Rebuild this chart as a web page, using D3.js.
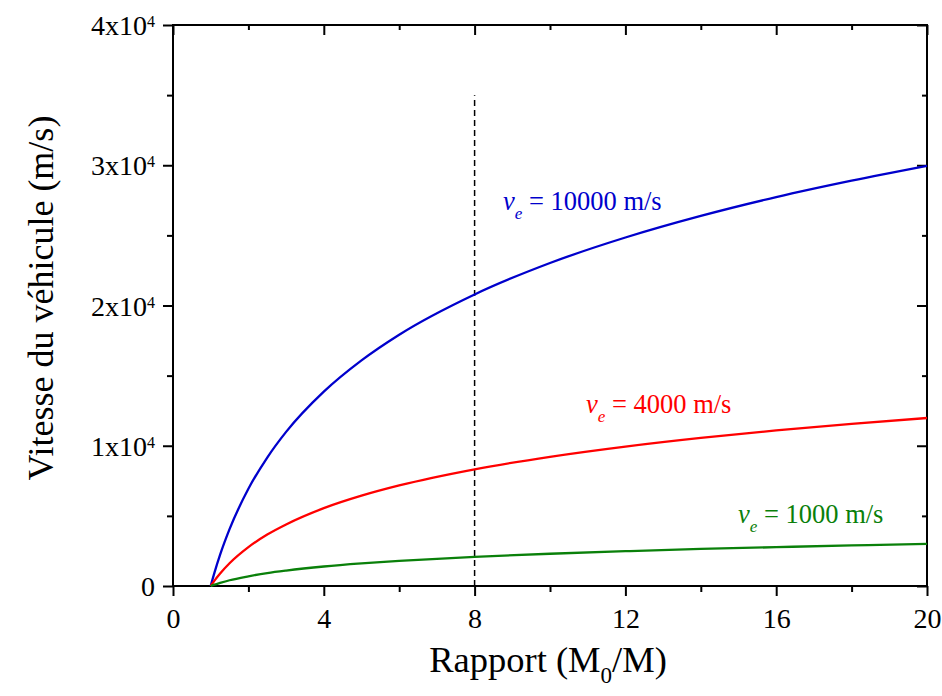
<!DOCTYPE html>
<meta charset="utf-8">
<style>
body { margin: 0; background: #fff; }
svg text { font-family: "Liberation Serif", Tinos, "Times New Roman", Times, serif !important; fill: #000; }
.axis path, .axis line { stroke: #000; stroke-width: 2; }
</style>
<body>
<script src="https://d3js.org/d3.v7.min.js"></script>
<script>

// mass ratio values (M0/M)
var ratio = [1, 1.1, 1.25, 1.5, 2, 2.5, 3, 4, 5, 6, 8, 10, 12, 14, 16, 18, 20];
// vehicle speed (m/s)
var ve10000 = [0, 950, 2230, 4050, 6930, 9160, 10990, 13860, 16090, 17920, 20790, 23030, 24850, 26390, 27730, 28900, 29960];
var ve4000 = [0, 380, 890, 1620, 2770, 3670, 4390, 5550, 6440, 7170, 8320, 9210, 9940, 10560, 11090, 11560, 11980];
var ve1000 = [0, 95, 220, 410, 690, 920, 1100, 1390, 1610, 1790, 2080, 2300, 2480, 2640, 2770, 2890, 3000];

var xTicks = [0, 4, 8, 12, 16, 20];
var yTicks = [0, 10000, 20000, 30000, 40000];
var dashX = 8, dashTop = 35000;

var series = [
  {name: "10000", values: ve10000, color: "#0000cc", lx: 503, ly: 210},
  {name: "4000", values: ve4000, color: "#ff0000", lx: 586, ly: 413},
  {name: "1000", values: ve1000, color: "#0a800a", lx: 738, ly: 523}
];

var margin = {top: 25, right: 15, bottom: 110, left: 173},
    width = 942 - margin.left - margin.right,
    height = 696 - margin.top - margin.bottom;

var x = d3.scaleLinear().domain([0, 20]).range([0, width]);
var y = d3.scaleLinear().domain([0, 40000]).range([height, 0]);

var svg = d3.select("body").append("svg")
    .attr("width", 942)
    .attr("height", 696)
  .append("g")
    .attr("transform", "translate(" + margin.left + "," + margin.top + ")");

// minor ticks, outward on left/bottom, inward on top/right
var xMinor = d3.range(2, 20, 4);
var yMinor = d3.range(5000, 40000, 10000);

svg.append("g").attr("class", "axis")
    .attr("transform", "translate(0," + height + ")")
    .call(d3.axisBottom(x).tickValues(xMinor).tickSize(6).tickFormat(""));
svg.append("g").attr("class", "axis")
    .call(d3.axisLeft(y).tickValues(yMinor).tickSize(6).tickFormat(""));
svg.append("g").attr("class", "axis")
    .call(d3.axisTop(x).tickValues(xMinor).tickSize(-5).tickFormat(""));
svg.append("g").attr("class", "axis")
    .attr("transform", "translate(" + width + ",0)")
    .call(d3.axisRight(y).tickValues(yMinor).tickSize(-5).tickFormat(""));
svg.append("g").attr("class", "axis")
    .call(d3.axisTop(x).tickValues(xTicks).tickSize(-10).tickFormat(""));
svg.append("g").attr("class", "axis")
    .attr("transform", "translate(" + width + ",0)")
    .call(d3.axisRight(y).tickValues(yTicks).tickSize(-10).tickFormat(""));

var xAxis = svg.append("g").attr("class", "axis")
    .attr("transform", "translate(0," + height + ")")
    .call(d3.axisBottom(x).tickValues(xTicks).tickSize(10).tickPadding(12));
xAxis.selectAll("text").style("font-size", "28px");

var yAxis = svg.append("g").attr("class", "axis")
    .call(d3.axisLeft(y).tickValues(yTicks).tickSize(10).tickFormat(""));
yAxis.selectAll(".tick").each(function(d) {
  var t = d3.select(this).append("text")
      .attr("x", -18).attr("dy", "0.34em")
      .attr("text-anchor", "end")
      .style("font-size", "28px").attr("fill", "#000");
  if (d === 0) { t.text("0"); return; }
  t.append("tspan").text((d / 10000) + "x10");
  t.append("tspan").attr("dy", "-0.5em").style("font-size", "16px").text("4");
});
svg.selectAll(".axis .domain").remove();

// frame
svg.append("rect")
    .attr("width", width).attr("height", height)
    .attr("fill", "none").attr("stroke", "#000").attr("stroke-width", 2);

// dashed marker
svg.append("line")
    .attr("x1", x(dashX)).attr("x2", x(dashX))
    .attr("y1", y(0)).attr("y2", y(dashTop))
    .attr("stroke", "#000").attr("stroke-width", 1.5)
    .attr("stroke-dasharray", "6,4");

var line = d3.line()
    .x(function(d, i) { return x(ratio[i]); })
    .y(function(d) { return y(d); })
    .curve(d3.curveMonotoneX);

series.forEach(function(s) {
  svg.append("path")
      .datum(s.values)
      .attr("fill", "none")
      .attr("stroke", s.color)
      .attr("stroke-width", 2.3)
      .attr("d", line);

  var t = svg.append("text")
      .attr("x", s.lx - margin.left).attr("y", s.ly - margin.top)
      .style("font-size", "26.5px").style("fill", s.color);
  t.append("tspan").style("font-style", "italic").text("v");
  t.append("tspan").attr("dy", "9").style("font-style", "italic").style("font-size", "17px").text("e");
  t.append("tspan").attr("dy", "-9").text(" = " + s.name + " m/s");
});

// axis titles
svg.append("text")
    .attr("x", 548 - margin.left).attr("y", 672 - margin.top)
    .attr("text-anchor", "middle").style("font-size", "36.5px")
    .call(function(t) {
      t.append("tspan").text("Rapport (M");
      t.append("tspan").attr("dy", "11").style("font-size", "23px").text("0");
      t.append("tspan").attr("dy", "-11").text("/M)");
    });

svg.append("text")
    .attr("transform", "translate(" + (53 - margin.left) + "," + (298 - margin.top) + ") rotate(-90)")
    .attr("text-anchor", "middle").style("font-size", "36px")
    .text("Vitesse du véhicule (m/s)");

</script>
</body>
